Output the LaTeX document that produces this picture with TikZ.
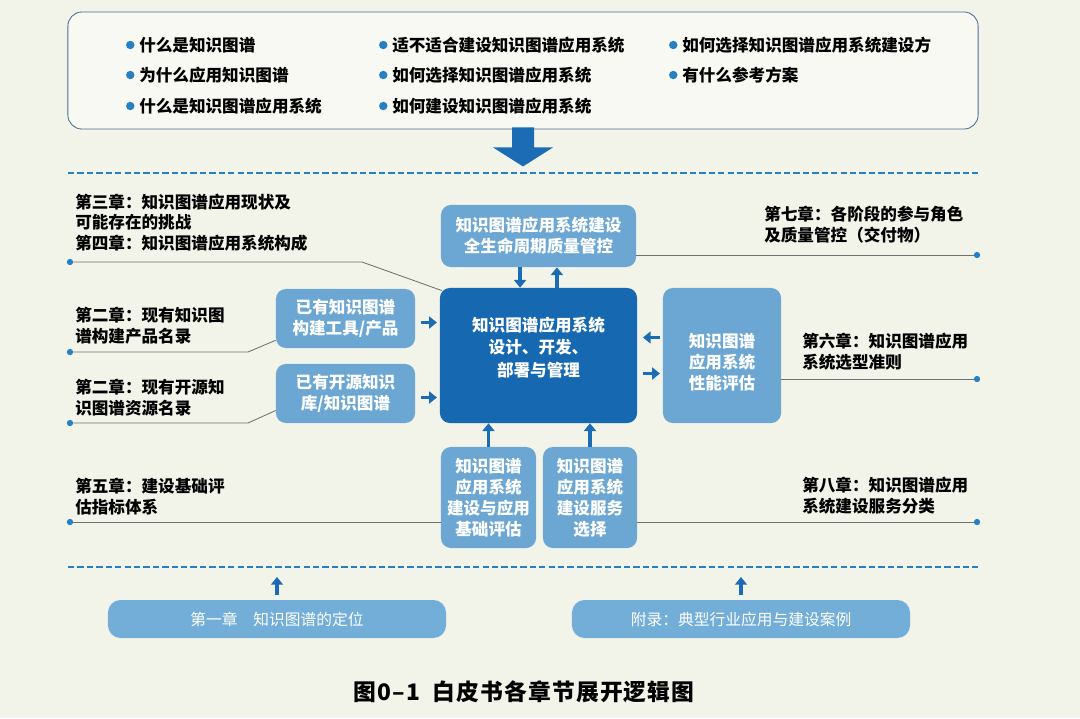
\documentclass[tikz,border=0pt]{standalone}
\usepackage{fontspec}
\setmainfont{Noto Sans CJK SC}
\usepackage{xcolor}
\usepackage{tikz}
\usetikzlibrary{arrows.meta, positioning}

\definecolor{paper}{RGB}{242,244,234}
\definecolor{deepblue}{RGB}{22,104,176}
\definecolor{midblue}{RGB}{108,167,212}
\definecolor{chapblue}{RGB}{114,174,215}
\definecolor{arrowblue}{RGB}{27,108,180}
\definecolor{dashblue}{RGB}{40,128,196}
\definecolor{leadgray}{RGB}{112,112,112}
\definecolor{framegray}{RGB}{70,110,145}

\begin{document}
\begin{tikzpicture}[x=0.025cm, y=-0.025cm,
    box/.style={rectangle, rounded corners=7pt, fill=midblue, text=white, align=center, inner sep=2pt, font=\fontsize{11.8}{15}\selectfont\bfseries},
    corebox/.style={box, fill=deepblue, font=\fontsize{11.8}{16.2}\selectfont\bfseries},
    boxtext/.style={text=white, align=center, inner sep=0pt, font=\fontsize{11.8}{15}\selectfont\bfseries},
    chapbox/.style={box, fill=chapblue, rounded corners=9pt, font=\fontsize{11.2}{13}\selectfont},
    framebox/.style={rectangle, rounded corners=10pt, draw=framegray, line width=0.6pt, fill=white!45!paper},
    note/.style={anchor=west, align=left, inner sep=0pt, font=\fontsize{11.8}{14.6}\selectfont\bfseries},
    item/.style={anchor=west, inner sep=0pt, font=\fontsize{11.8}{14}\selectfont\bfseries},
    bullet/.style={circle, fill=dashblue, inner sep=0pt, minimum size=6pt},
    pin/.style={circle, fill=dashblue, inner sep=0pt, minimum size=4.5pt},
    lead/.style={draw=leadgray, line width=0.6pt},
    flow/.style={draw=arrowblue, line width=2.6pt, -{Triangle[width=8.5pt,length=5.5pt]}},
    sep/.style={draw=dashblue, line width=1.3pt, dash pattern=on 4.5pt off 2.2pt},
    caption/.style={font=\fontsize{16.2}{18}\selectfont\bfseries\addfontfeatures{LetterSpace=5}}
]
\useasboundingbox[fill=paper] (0,0) rectangle (1080,718);

% Question frame with its bullet list
\node[framebox, minimum width=22.75cm, minimum height=2.925cm] (qbox) at (523,70.5) {};
\foreach \n/\x/\y/\t in {a/139/45/什么是知识图谱, b/139/75/为什么应用知识图谱, c/139/106/什么是知识图谱应用系统,
    d/392/45/适不适合建设知识图谱应用系统, e/392/75/如何选择知识图谱应用系统, f/392/106/如何建设知识图谱应用系统,
    g/682/45/如何选择知识图谱应用系统建设方, h/682/75/有什么参考方案}{
  \node[item] (q\n) at (\x,\y) {\t};
  \node[bullet, left=3pt of q\n] {};
}

% Big arrow down to the body
\fill[arrowblue] (qbox.south) ++(-11,-2) -- ++(22,0) -- ++(0,20) -- ++(19,0) -- ++(-30,19) -- ++(-30,-19) -- ++(19,0) -- cycle;

% Separators
\coordinate (s1l) at (68,173);
\coordinate (s1r) at (978,173);
\coordinate (s2l) at (68,567);
\coordinate (s2r) at (978,567);
\draw[sep] (s1l) -- (s1r);
\draw[sep] (s2l) -- (s2r);

% Centre block and the boxes round it
\node[corebox, minimum width=4.925cm, minimum height=3.375cm] (core) at (538.5,355.5) {};
\node[boxtext, font=\fontsize{11.8}{16.2}\selectfont\bfseries] (coretext) at ([yshift=0.2cm]core.center) {知识图谱应用系统\\设计、开发、\\部署与管理};
\node[box, minimum width=4.875cm, minimum height=1.55cm] (topq) at (538.5,236) {知识图谱应用系统建设\\全生命周期质量管控};
\node[box, minimum width=3.475cm, minimum height=1.475cm] (tools) at (345.5,318.5) {已有知识图谱\\构建工具/产品};
\node[box, minimum width=3.475cm, minimum height=1.475cm] (opensrc) at (345.5,393.5) {已有开源知识\\库/知识图谱};
\node[box, minimum width=2.95cm, minimum height=3.375cm] (perf) at (722,355.5) {};
\node[boxtext] (perftext) at ([yshift=-0.17cm]perf.center) {知识图谱\\应用系统\\性能评估};
\node[box, minimum width=2.375cm, minimum height=2.525cm] (basis) at (488.5,497.5) {知识图谱\\应用系统\\建设与应用\\基础评估};
\node[box, minimum width=2.35cm, minimum height=2.525cm] (service) at (590,497.5) {知识图谱\\应用系统\\建设服务\\选择};

% Bottom chapters
\node[chapbox, minimum width=8.45cm, minimum height=0.95cm] (ch1) at (277,619) {第一章　知识图谱的定位};
\node[chapbox, minimum width=8.45cm, minimum height=0.95cm] (appx) at (741,619) {附录：典型行业应用与建设案例};

% Flow arrows
\draw[flow] ([xshift=-0.46cm]topq.south) -- ([xshift=-0.46cm]core.north);
\draw[flow] ([xshift=0.46cm]core.north) -- ([xshift=0.46cm]topq.south);
\draw[flow, shorten <=4pt, shorten >=2pt] ([yshift=-0.1cm]tools.east) -- ([yshift=-0.1cm]tools.east -| core.west);
\draw[flow, shorten <=4pt, shorten >=2pt] ([yshift=-0.1cm]opensrc.east) -- ([yshift=-0.1cm]opensrc.east -| core.west);
\draw[flow, shorten <=2pt, shorten >=4pt] ([yshift=0.45cm]perf.west) -- ([yshift=0.45cm]core.east);
\draw[flow, shorten <=4pt, shorten >=2pt] ([yshift=-0.45cm]core.east) -- ([yshift=-0.45cm]perf.west);
\draw[flow] (basis.north) -- (basis.north |- core.south);
\draw[flow] (service.north) -- (service.north |- core.south);
\draw[flow] ([yshift=0.12cm]ch1.north) -- ([yshift=-0.25cm]ch1.north |- s2l);
\draw[flow] ([yshift=0.12cm]appx.north) -- ([yshift=-0.25cm]appx.north |- s2l);

% Chapter notes, left
\node[note] (n34) at (75,222.5) {第三章：知识图谱应用现状及\\可能存在的挑战\\第四章：知识图谱应用系统构成};
\node[note] (n2a) at (75,325.5) {第二章：现有知识图\\谱构建产品名录};
\node[note] (n2b) at (75,397.5) {第二章：现有开源知\\识图谱资源名录};
\node[note] (n5) at (75,496.5) {第五章：建设基础评\\估指标体系};
\node[pin] (p34) at (70,262) {};
\node[pin] (p2a) at (70,352) {};
\node[pin] (p2b) at (70,423) {};
\node[pin] (p5) at (70,522) {};
\draw[lead] (p34) -- ++(292,0) -- ([xshift=0.05cm,yshift=-0.07cm]core.north west);
\draw[lead] (p2a) -- ++(178,0) -- ([yshift=0.2cm]tools.south west);
\draw[lead] (p2b) -- ++(178,0) -- ([yshift=0.32cm]opensrc.south west);
\draw[lead] (p5) -- (p5 -| basis.west);

% Chapter notes, right
\node[note] (n7) at (764,224.5) {第七章：各阶段的参与角色\\及质量管控（交付物）};
\node[note] (n6) at (802,351.5) {第六章：知识图谱应用\\系统选型准则};
\node[note] (n8) at (802,495.5) {第八章：知识图谱应用\\系统建设服务分类};
\node[pin] (p7) at (977,255) {};
\node[pin] (p6) at (977,379) {};
\node[pin] (p8) at (977,522) {};
\draw[lead] (topq.east |- p7) -- (p7);
\draw[lead] (perf.east |- p6) -- (p6);
\draw[lead] (service.east |- p8) -- (p8);

\node[caption] (cap) at (524,692) {图0–1\ \ 白皮书各章节展开逻辑图};
\end{tikzpicture}
\end{document}
